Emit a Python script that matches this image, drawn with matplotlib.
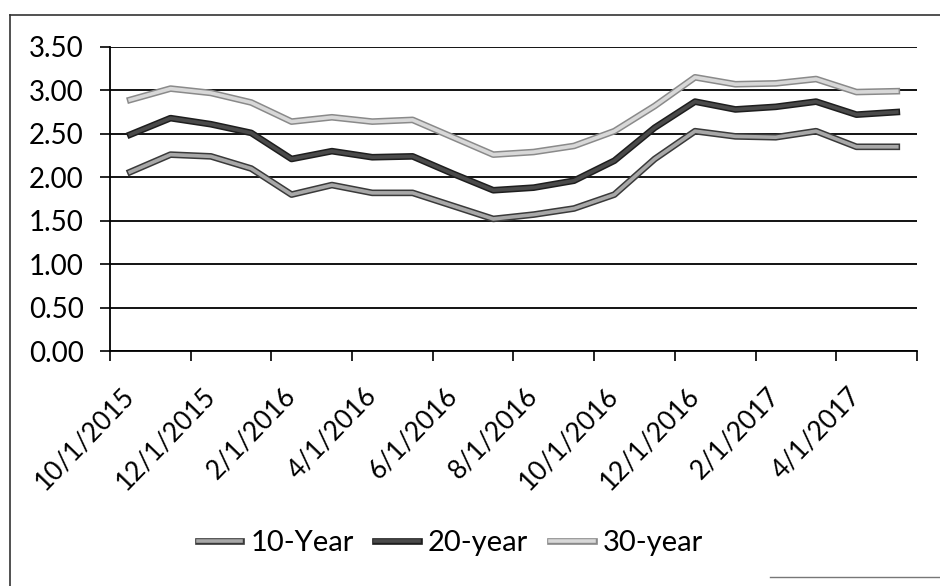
import numpy as np
import matplotlib
matplotlib.use("Agg")
import matplotlib.pyplot as plt
import matplotlib.patheffects as pe
from matplotlib.lines import Line2D

plt.rcParams['font.family'] = ['Lato', 'DejaVu Sans']

months = ['10/1/2015', '11/1/2015', '12/1/2015', '1/1/2016', '2/1/2016', '3/1/2016',
          '4/1/2016', '5/1/2016', '6/1/2016', '7/1/2016', '8/1/2016', '9/1/2016',
          '10/1/2016', '11/1/2016', '12/1/2016', '1/1/2017', '2/1/2017', '3/1/2017',
          '4/1/2017', '5/1/2017']

y10 = [2.06, 2.26, 2.24, 2.10, 1.80, 1.91, 1.82, 1.82, 1.67, 1.52,
       1.57, 1.64, 1.80, 2.21, 2.53, 2.47, 2.46, 2.53, 2.35, 2.35]
y20 = [2.49, 2.68, 2.61, 2.51, 2.21, 2.30, 2.23, 2.24, 2.04, 1.85,
       1.88, 1.96, 2.19, 2.57, 2.87, 2.78, 2.81, 2.87, 2.72, 2.75]
y30 = [2.89, 3.02, 2.97, 2.86, 2.64, 2.69, 2.64, 2.66, 2.46, 2.26,
       2.29, 2.36, 2.53, 2.82, 3.15, 3.07, 3.08, 3.13, 2.98, 2.99]

series = [('10-Year', y10, '#a8a8a8', '#3a3a3a'),
          ('20-year', y20, '#4a4a4a', '#1e1e1e'),
          ('30-year', y30, '#d8d8d8', '#8a8a8a')]

fig = plt.figure(figsize=(9.4, 5.86), dpi=100)
ax = fig.add_axes([0.117, 0.401, 0.8585, 0.519])

x = np.arange(len(months))
handles = []
for name, vals, inner, edge in series:
    fx = [pe.Stroke(linewidth=4.8, foreground=edge), pe.Normal()]
    ax.plot(x, vals, color=inner, lw=2.6, zorder=3, path_effects=fx)
    handles.append(Line2D([0], [0], color=inner, lw=2.6, path_effects=fx))

ax.set_xlim(-0.5, len(months) - 0.5)
ax.set_ylim(0, 3.5)
ax.set_yticks(np.arange(0, 3.51, 0.5))
ax.set_yticklabels(['%.2f' % v for v in np.arange(0, 3.51, 0.5)])
ax.yaxis.grid(True, color='black', lw=1.3)
ax.set_axisbelow(True)

# ticks between every second category, date labels on the categories
ax.set_xticks(np.arange(-0.5, len(months), 2))
ax.set_xticklabels([])
ax.set_xticks(x[::2], minor=True)
ax.set_xticklabels(months[::2], minor=True, rotation=46, ha='right', va='center',
                   rotation_mode='anchor')
ax.tick_params(axis='x', which='minor', length=0, pad=29, labelsize=19)
ax.tick_params(axis='x', which='major', length=7, width=1.2, direction='out')
ax.tick_params(axis='y', length=7, width=1.2, pad=12, labelsize=20)

for s in ['top', 'right']:
    ax.spines[s].set_visible(False)
ax.spines['left'].set_linewidth(1.3)
ax.spines['bottom'].set_linewidth(1.3)

fig.legend(handles, [s[0] for s in series], loc='center', bbox_to_anchor=(0.479, 0.073),
           ncol=3, frameon=False, fontsize=21, handlelength=1.5, handletextpad=0.3,
           columnspacing=0.75)

# outer chart frame
fig.add_artist(Line2D([10 / 940, 10 / 940], [0, 1 - 15 / 586], color='#333333', lw=1.2))
fig.add_artist(Line2D([10 / 940, 1], [1 - 15 / 586, 1 - 15 / 586], color='#333333', lw=1.2))
fig.add_artist(Line2D([770 / 940, 1], [1 - 577 / 586, 1 - 577 / 586], color='#777777', lw=1.0))

fig.savefig('out.png', dpi=100)
